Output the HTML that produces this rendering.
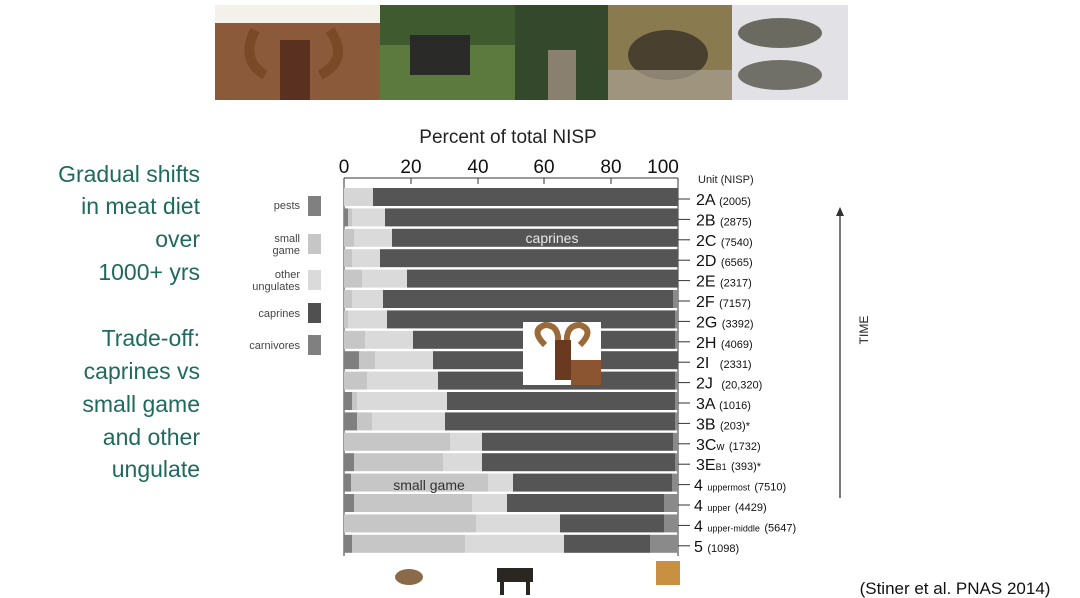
<!DOCTYPE html>
<html><head><meta charset="utf-8"><style>
body{margin:0;background:#fff;width:1080px;height:598px;overflow:hidden}
svg{display:block}
text{font-family:"Liberation Sans","DejaVu Sans",sans-serif}
</style></head><body>
<svg width="1080" height="598" viewBox="0 0 1080 598">
<rect x="215" y="5" width="165" height="95" fill="#8a5a3a"/>
<rect x="215" y="5" width="165" height="18" fill="#f4f0ea"/>
<path d="M255 30 Q240 60 265 75 M330 30 Q350 60 320 75" stroke="#7a4a28" stroke-width="10" fill="none"/>
<rect x="280" y="40" width="30" height="60" fill="#5a3020"/>
<rect x="380" y="5" width="135" height="95" fill="#5d7a3e"/>
<rect x="380" y="5" width="135" height="40" fill="#3e5a2e"/>
<rect x="410" y="35" width="60" height="40" fill="#2a2a28"/>
<rect x="515" y="5" width="93" height="95" fill="#34482c"/>
<rect x="548" y="50" width="28" height="50" fill="#8a8070"/>
<rect x="608" y="5" width="124" height="95" fill="#8a7a50"/>
<ellipse cx="668" cy="55" rx="40" ry="25" fill="#4a4030"/>
<rect x="608" y="70" width="124" height="30" fill="#a8a090" opacity="0.7"/>
<rect x="732" y="5" width="116" height="95" fill="#e2e2e6"/>
<ellipse cx="780" cy="33" rx="42" ry="15" fill="#6a6a60"/>
<ellipse cx="780" cy="75" rx="42" ry="15" fill="#707068"/>

<text x="508" y="143" font-size="19" text-anchor="middle" fill="#222">Percent of total NISP</text>
<g font-size="19" fill="#111" text-anchor="middle">
<text x="344" y="173">0</text><text x="411" y="173">20</text><text x="478" y="173">40</text>
<text x="544" y="173">60</text><text x="611" y="173">80</text><text x="663" y="173">100</text>
</g>
<g stroke="#333" stroke-width="1">
<line x1="344" y1="178" x2="678" y2="178"/>
<line x1="344" y1="178" x2="344" y2="556"/>
<line x1="678" y1="178" x2="678" y2="556"/>
<line x1="411" y1="178" x2="411" y2="184"/><line x1="478" y1="178" x2="478" y2="184"/>
<line x1="544" y1="178" x2="544" y2="184"/><line x1="611" y1="178" x2="611" y2="184"/>
</g>

<g>
<rect x="344" y="188" width="29" height="18" fill="#d6d6d6"/><rect x="373" y="188" width="305" height="18" fill="#555"/>
<rect x="344" y="208.4" width="4" height="18" fill="#7f7f7f"/><rect x="348" y="208.4" width="4" height="18" fill="#c6c6c6"/><rect x="352" y="208.4" width="33" height="18" fill="#dadada"/><rect x="385" y="208.4" width="293" height="18" fill="#555"/>
<rect x="344" y="228.8" width="10" height="18" fill="#c6c6c6"/><rect x="354" y="228.8" width="38" height="18" fill="#dadada"/><rect x="392" y="228.8" width="286" height="18" fill="#555"/>
<rect x="344" y="249.2" width="8" height="18" fill="#c6c6c6"/><rect x="352" y="249.2" width="28" height="18" fill="#dadada"/><rect x="380" y="249.2" width="298" height="18" fill="#555"/>
<rect x="344" y="269.6" width="18" height="18" fill="#c6c6c6"/><rect x="362" y="269.6" width="45" height="18" fill="#dadada"/><rect x="407" y="269.6" width="271" height="18" fill="#555"/>
<rect x="344" y="290" width="8" height="18" fill="#c6c6c6"/><rect x="352" y="290" width="31" height="18" fill="#dadada"/><rect x="383" y="290" width="290" height="18" fill="#555"/><rect x="673" y="290" width="5" height="18" fill="#8a8a8a"/>
<rect x="344" y="310.4" width="4" height="18" fill="#c6c6c6"/><rect x="348" y="310.4" width="39" height="18" fill="#dadada"/><rect x="387" y="310.4" width="288" height="18" fill="#555"/><rect x="675" y="310.4" width="3" height="18" fill="#8a8a8a"/>
<rect x="344" y="330.8" width="21" height="18" fill="#c6c6c6"/><rect x="365" y="330.8" width="48" height="18" fill="#dadada"/><rect x="413" y="330.8" width="262" height="18" fill="#555"/><rect x="675" y="330.8" width="3" height="18" fill="#8a8a8a"/>
<rect x="344" y="351.2" width="15" height="18" fill="#7f7f7f"/><rect x="359" y="351.2" width="16" height="18" fill="#c6c6c6"/><rect x="375" y="351.2" width="58" height="18" fill="#dadada"/><rect x="433" y="351.2" width="245" height="18" fill="#555"/>
<rect x="344" y="371.6" width="23" height="18" fill="#c6c6c6"/><rect x="367" y="371.6" width="71" height="18" fill="#dadada"/><rect x="438" y="371.6" width="237" height="18" fill="#555"/><rect x="675" y="371.6" width="3" height="18" fill="#8a8a8a"/>
<rect x="344" y="392" width="8" height="18" fill="#7f7f7f"/><rect x="352" y="392" width="5" height="18" fill="#c6c6c6"/><rect x="357" y="392" width="90" height="18" fill="#dadada"/><rect x="447" y="392" width="228" height="18" fill="#555"/><rect x="675" y="392" width="3" height="18" fill="#8a8a8a"/>
<rect x="344" y="412.4" width="13" height="18" fill="#7f7f7f"/><rect x="357" y="412.4" width="15" height="18" fill="#c6c6c6"/><rect x="372" y="412.4" width="73" height="18" fill="#dadada"/><rect x="445" y="412.4" width="230" height="18" fill="#555"/><rect x="675" y="412.4" width="3" height="18" fill="#8a8a8a"/>
<rect x="344" y="432.8" width="106" height="18" fill="#c6c6c6"/><rect x="450" y="432.8" width="32" height="18" fill="#dadada"/><rect x="482" y="432.8" width="191" height="18" fill="#555"/><rect x="673" y="432.8" width="5" height="18" fill="#8a8a8a"/>
<rect x="344" y="453.2" width="10" height="18" fill="#7f7f7f"/><rect x="354" y="453.2" width="89" height="18" fill="#c6c6c6"/><rect x="443" y="453.2" width="39" height="18" fill="#dadada"/><rect x="482" y="453.2" width="193" height="18" fill="#555"/><rect x="675" y="453.2" width="3" height="18" fill="#8a8a8a"/>
<rect x="344" y="473.6" width="7" height="18" fill="#7f7f7f"/><rect x="351" y="473.6" width="137" height="18" fill="#c6c6c6"/><rect x="488" y="473.6" width="25" height="18" fill="#dadada"/><rect x="513" y="473.6" width="159" height="18" fill="#555"/><rect x="672" y="473.6" width="6" height="18" fill="#8a8a8a"/>
<rect x="344" y="494" width="10" height="18" fill="#7f7f7f"/><rect x="354" y="494" width="118" height="18" fill="#c6c6c6"/><rect x="472" y="494" width="35" height="18" fill="#dadada"/><rect x="507" y="494" width="157" height="18" fill="#555"/><rect x="664" y="494" width="14" height="18" fill="#8a8a8a"/>
<rect x="344" y="514.4" width="132" height="18" fill="#c6c6c6"/><rect x="476" y="514.4" width="84" height="18" fill="#dadada"/><rect x="560" y="514.4" width="104" height="18" fill="#555"/><rect x="664" y="514.4" width="14" height="18" fill="#8a8a8a"/>
<rect x="344" y="534.8" width="8" height="18" fill="#7f7f7f"/><rect x="352" y="534.8" width="113" height="18" fill="#c6c6c6"/><rect x="465" y="534.8" width="99" height="18" fill="#dadada"/><rect x="564" y="534.8" width="86" height="18" fill="#555"/><rect x="650" y="534.8" width="28" height="18" fill="#8a8a8a"/>
</g>
<text x="552" y="243" font-size="14" fill="#e8e8e8" text-anchor="middle">caprines</text>
<text x="429" y="490" font-size="14" fill="#333" text-anchor="middle">small game</text>

<rect x="523" y="322" width="78" height="63" fill="#fff"/>
<path d="M545 345 Q530 330 545 325 Q560 325 558 345 M580 345 Q595 330 580 325 Q565 325 567 345" stroke="#9a6a38" stroke-width="6" fill="none"/>
<rect x="555" y="340" width="16" height="40" fill="#6a3a20"/>
<rect x="571" y="360" width="30" height="25" fill="#8a5530"/>

<g stroke="#333" stroke-width="1">
<line x1="678" y1="199" x2="690" y2="199"/><line x1="678" y1="219.4" x2="690" y2="219.4"/><line x1="678" y1="239.8" x2="690" y2="239.8"/><line x1="678" y1="260.2" x2="690" y2="260.2"/><line x1="678" y1="280.6" x2="690" y2="280.6"/><line x1="678" y1="301" x2="690" y2="301"/><line x1="678" y1="321.4" x2="690" y2="321.4"/><line x1="678" y1="341.8" x2="690" y2="341.8"/><line x1="678" y1="362.2" x2="690" y2="362.2"/><line x1="678" y1="382.6" x2="690" y2="382.6"/><line x1="678" y1="403" x2="690" y2="403"/><line x1="678" y1="423.4" x2="690" y2="423.4"/><line x1="678" y1="443.8" x2="690" y2="443.8"/><line x1="678" y1="464.2" x2="690" y2="464.2"/><line x1="678" y1="484.6" x2="690" y2="484.6"/><line x1="678" y1="505" x2="690" y2="505"/><line x1="678" y1="525.4" x2="690" y2="525.4"/><line x1="678" y1="545.8" x2="690" y2="545.8"/>
</g>
<text x="698" y="183" font-size="11" fill="#222">Unit (NISP)</text>
<g fill="#111" font-size="16">
<text x="696" y="205">2A <tspan font-size="11">(2005)</tspan></text>
<text x="696" y="225.4">2B <tspan font-size="11">(2875)</tspan></text>
<text x="696" y="245.8">2C <tspan font-size="11">(7540)</tspan></text>
<text x="696" y="266.2">2D <tspan font-size="11">(6565)</tspan></text>
<text x="696" y="286.6">2E <tspan font-size="11">(2317)</tspan></text>
<text x="696" y="307">2F <tspan font-size="11">(7157)</tspan></text>
<text x="696" y="327.4">2G <tspan font-size="11">(3392)</tspan></text>
<text x="696" y="347.8">2H <tspan font-size="11">(4069)</tspan></text>
<text x="696" y="368.2">2I <tspan font-size="11" dx="6">(2331)</tspan></text>
<text x="696" y="388.6">2J <tspan font-size="11" dx="4">(20,320)</tspan></text>
<text x="696" y="409">3A <tspan font-size="11">(1016)</tspan></text>
<text x="696" y="429.4">3B <tspan font-size="11">(203)*</tspan></text>
<text x="696" y="449.8">3C<tspan font-size="11">w</tspan> <tspan font-size="11">(1732)</tspan></text>
<text x="696" y="470.2">3E<tspan font-size="9">B1</tspan> <tspan font-size="11">(393)*</tspan></text>
<text x="694" y="490.6">4 <tspan font-size="9">uppermost</tspan> <tspan font-size="11">(7510)</tspan></text>
<text x="694" y="511">4 <tspan font-size="9">upper</tspan> <tspan font-size="11">(4429)</tspan></text>
<text x="694" y="531.4">4 <tspan font-size="9">upper-middle</tspan> <tspan font-size="11">(5647)</tspan></text>
<text x="694" y="551.8">5 <tspan font-size="11">(1098)</tspan></text>
</g>

<line x1="840" y1="212" x2="840" y2="498" stroke="#333" stroke-width="1.3"/>
<path d="M836 216 L840 207 L844 216 Z" fill="#333"/>
<text x="868" y="330" font-size="12" fill="#222" transform="rotate(-90 868 330)" text-anchor="middle">TIME</text>

<g font-size="11" fill="#444" text-anchor="end">
<text x="300" y="209">pests</text>
<text x="300" y="242">small</text><text x="300" y="254">game</text>
<text x="300" y="278">other</text><text x="300" y="290">ungulates</text>
<text x="300" y="317">caprines</text>
<text x="300" y="349">carnivores</text>
</g>
<rect x="308" y="196" width="13" height="20" fill="#808080"/>
<rect x="308" y="234" width="13" height="20" fill="#c6c6c6"/>
<rect x="308" y="270" width="13" height="20" fill="#dadada"/>
<rect x="308" y="303" width="13" height="20" fill="#505050"/>
<rect x="308" y="335" width="13" height="20" fill="#808080"/>

<g font-size="23" fill="#1f6a5e" text-anchor="end">
<text x="200" y="182">Gradual shifts</text>
<text x="200" y="214">in meat diet</text>
<text x="200" y="247">over</text>
<text x="200" y="280">1000+ yrs</text>
<text x="200" y="346">Trade-off:</text>
<text x="200" y="379">caprines vs</text>
<text x="200" y="412">small game</text>
<text x="200" y="445">and other</text>
<text x="200" y="477">ungulate</text>
</g>

<ellipse cx="409" cy="577" rx="14" ry="8" fill="#8a6a48"/>
<rect x="497" y="568" width="36" height="14" fill="#2a2622"/>
<rect x="500" y="580" width="4" height="15" fill="#2a2622"/><rect x="526" y="580" width="4" height="15" fill="#2a2622"/>
<rect x="656" y="561" width="24" height="24" fill="#c89040"/>
<text x="955" y="594" font-size="17" fill="#111" text-anchor="middle">(Stiner et al. PNAS 2014)</text>
</svg>
</body></html>
